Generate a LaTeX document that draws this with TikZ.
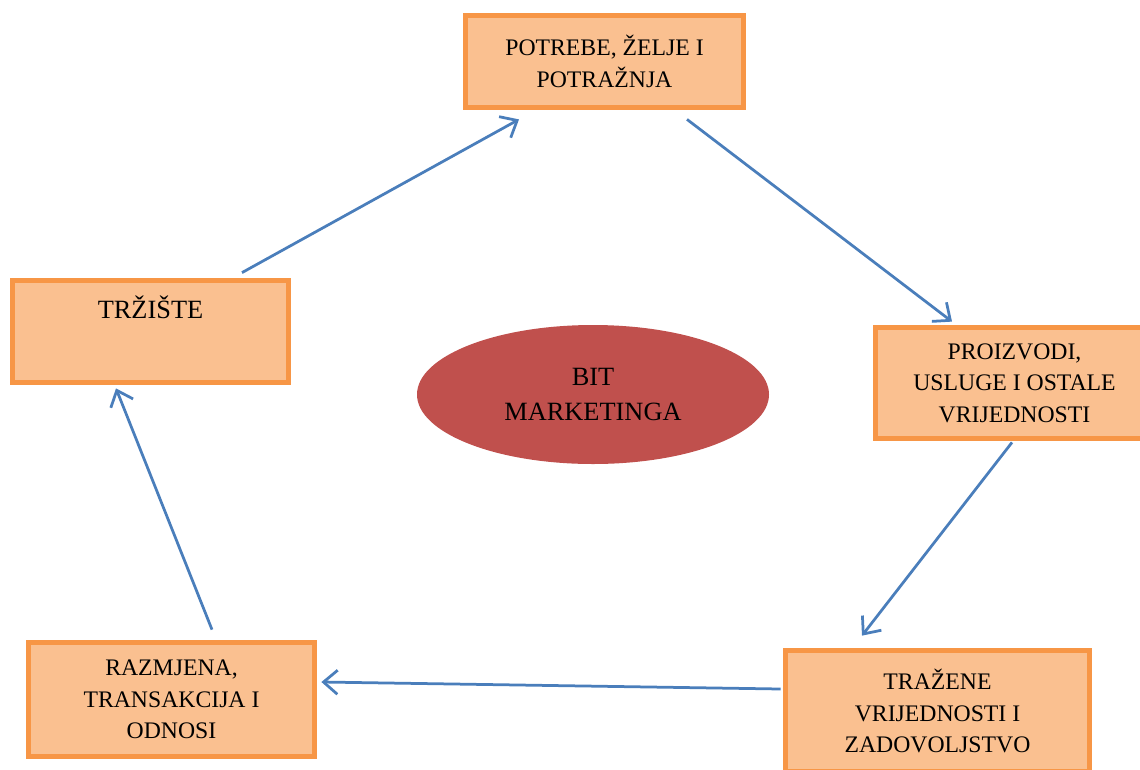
\documentclass[tikz,border=0pt]{standalone}
\usepackage{fontspec}
\setmainfont{Liberation Serif}
\usetikzlibrary{arrows.meta,shapes.geometric}

\definecolor{boxline}{RGB}{247,150,70}
\definecolor{boxfill}{RGB}{250,192,144}
\definecolor{bitred}{RGB}{192,80,77}
\definecolor{arrowblue}{RGB}{74,126,187}

\tikzset{
  stagebox/.style={draw=boxline, fill=boxfill, line width=3pt, align=center,
    font=\fontsize{13.5}{18}\selectfont, inner sep=0pt},
  flow/.style={arrows={-Straight Barb[length=2.8mm, width=4.8mm]},
    draw=arrowblue, line width=.55mm}
}

\begin{document}
\begin{tikzpicture}
\useasboundingbox (0,0) rectangle (22.8,-15.38);

\node[stagebox, minimum width=5.55cm, minimum height=1.83cm] at (12.09,-1.23) (pot)
  {POTREBE, ŽELJE I\\POTRAŽNJA};
\node[stagebox, minimum width=5.51cm, text height=0.75cm, text depth=1.28cm,
  font=\fontsize{15}{18}\selectfont] at (3.01,-6.63) (trz) {TRŽIŠTE};
\node[stagebox, minimum width=5.55cm, minimum height=2.21cm] at (20.29,-7.66) (pro)
  {PROIZVODI,\\USLUGE I OSTALE\\VRIJEDNOSTI};
\node[stagebox, minimum width=5.71cm, minimum height=2.27cm] at (3.43,-13.99) (raz)
  {RAZMJENA,\\TRANSAKCIJA I\\ODNOSI};
\node[stagebox, minimum width=6.07cm, minimum height=2.41cm] at (18.75,-14.22) (tra)
  {TRAŽENE\\VRIJEDNOSTI I\\ZADOVOLJSTVO};

%centre
\node[ellipse, fill=bitred, minimum width=7.04cm, minimum height=2.78cm, align=center,
  font=\fontsize{15}{20.4}\selectfont, inner sep=0pt] at (11.86,-7.89) (bit)
  {BIT\\MARKETINGA};

%cycle
\draw[flow] ([xshift=1.83cm,yshift=0.11cm]trz.north) -- ([xshift=-1.71cm,yshift=-0.19cm]pot.south);
\draw[flow] ([xshift=1.65cm,yshift=-0.19cm]pot.south) -- ([xshift=-1.25cm,yshift=0.07cm]pro.north);
\draw[flow] ([xshift=-0.05cm,yshift=-0.03cm]pro.south) -- ([xshift=-1.51cm,yshift=0.25cm]tra.north);
\draw[flow] ([xshift=-0.05cm,yshift=0.44cm]tra.west) -- ([xshift=0.09cm,yshift=0.35cm]raz.east);
\draw[flow] ([xshift=0.81cm,yshift=0.21cm]raz.north) -- ([xshift=-0.69cm,yshift=-0.07cm]trz.south);

\end{tikzpicture}
\end{document}
